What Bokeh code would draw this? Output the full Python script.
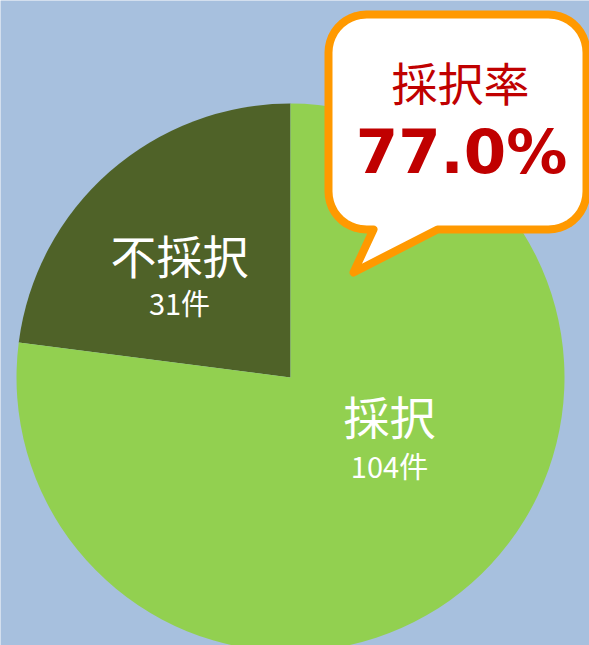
import numpy as np
from bokeh.plotting import figure
from bokeh.models import Range1d
from bokeh.core.properties import value
from bokeh.embed import file_html
from bokeh.resources import INLINE

# ---- data ----
categories = ["採択", "不採択"]
counts = [104, 31]
count_labels = ["104件", "31件"]
rate_title = "採択率"
rate_text = "77.0%"

colors = {"採択": "#92D050", "不採択": "#4F6228"}
BG = "#A7C0DE"

W, H = 589, 645
p = figure(width=W, height=H, output_backend="svg", toolbar_location=None,
           x_range=Range1d(0, W), y_range=Range1d(0, H),
           min_border=0, background_fill_color=BG, border_fill_color=BG)
p.axis.visible = False
p.grid.visible = False
p.outline_line_color = None

def Y(y):  # reference image y (down) -> data y (up)
    return 645 - y

# ---- pie ----
cx, cy, r = 290, Y(377), 274
total = sum(counts)
# dark slice (不採択) starts at top going counter-clockwise, then 採択
order = [1, 0]
start = np.pi / 2
for i in order:
    ang = 2 * np.pi * counts[i] / total
    p.wedge(x=cx, y=cy, radius=r, start_angle=start, end_angle=start + ang,
            fill_color=colors[categories[i]], line_color=None)
    start += ang

# ---- slice labels ----
lab_pos = {"不採択": (179, 253, 301), "採択": (389, 414, 464)}
for i, c in enumerate(categories):
    x, ym, yc = lab_pos[c]
    p.text(x=[x], y=[Y(ym)], text=[c], text_color="white",
           text_font=value("Noto Sans CJK JP"), text_font_size="46px",
           text_align="center", text_baseline="middle")
    p.text(x=[x], y=[Y(yc)], text=[count_labels[i]], text_color="white",
           text_font=value("Noto Sans CJK JP"), text_font_size="29px",
           text_align="center", text_baseline="middle")

# ---- callout bubble ----
x0, x1, y0, y1, rc = 328, 586, 14, 229, 38
tail_l, tail_r, tip = 373, 437, (353, 272)
pts = []
def arc(cxa, cya, a0, a1):
    for t in np.linspace(a0, a1, 12):
        pts.append((cxa + rc * np.cos(t), cya + rc * np.sin(t)))
# work in ref coords (y down); angles measured with y down
arc(x0 + rc, y0 + rc, np.pi, 1.5 * np.pi)          # top-left
arc(x1 - rc, y0 + rc, 1.5 * np.pi, 2 * np.pi)      # top-right
arc(x1 - rc, y1 - rc, 0, 0.5 * np.pi)              # bottom-right
pts.append((tail_r, y1))
pts.append(tip)
pts.append((tail_l, y1))
arc(x0 + rc, y1 - rc, 0.5 * np.pi, np.pi)          # bottom-left
bx = [q[0] for q in pts]
by = [Y(q[1]) for q in pts]
p.patch(bx, by, fill_color="white", line_color="#FF9900", line_width=8,
        line_join="round")

p.text(x=[460], y=[Y(80)], text=[rate_title], text_color="#C00000",
       text_font=value("Noto Sans CJK JP"), text_font_size="46px",
       text_align="center", text_baseline="middle")
p.text(x=[461], y=[Y(151)], text=[rate_text], text_color="#C00000",
       text_font=value("DejaVu Sans"), text_font_style="bold",
       text_font_size="61px", text_align="center", text_baseline="middle")

open("out.html", "w").write(file_html(p, INLINE))
